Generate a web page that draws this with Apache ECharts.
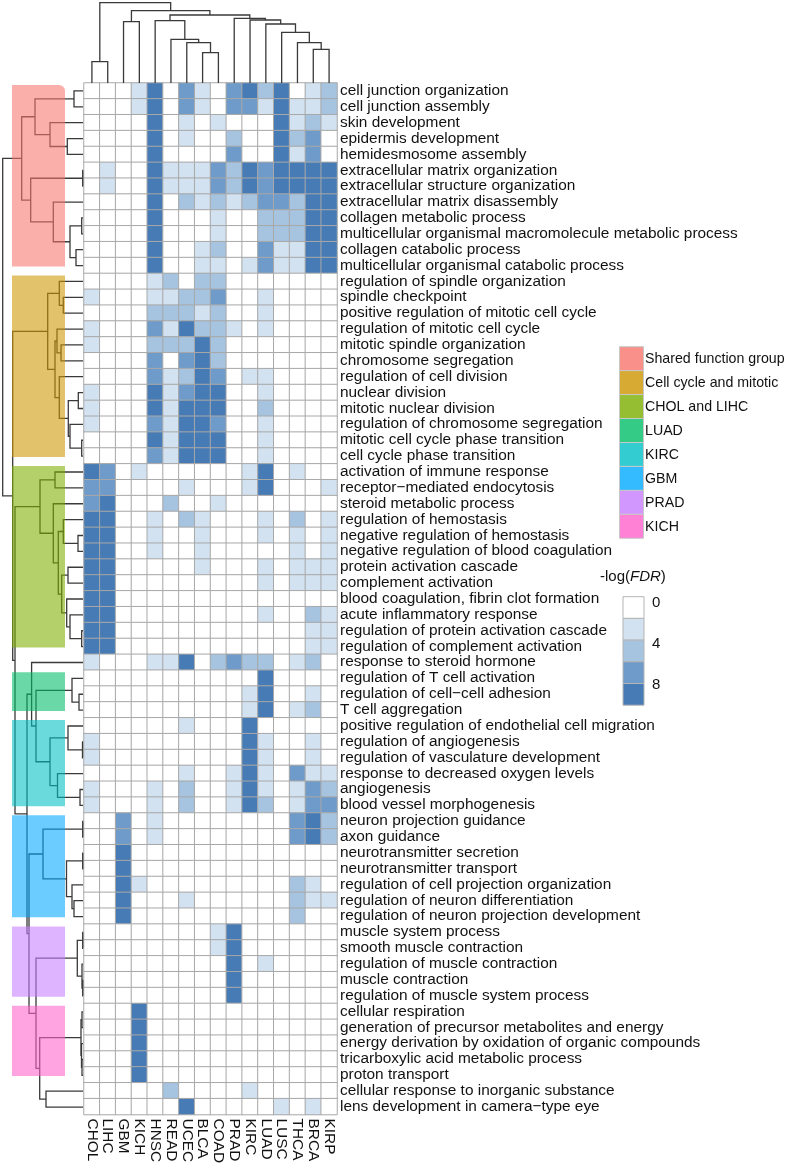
<!DOCTYPE html>
<html><head><meta charset="utf-8">
<script src="https://cdn.jsdelivr.net/npm/echarts@6/dist/echarts.min.js"></script>
<style>html,body{margin:0;padding:0;background:#fff}#c{width:787px;height:1166px}</style>
</head><body><div id="c"></div><script>
const columns = ['CHOL','LIHC','GBM','KICH','HNSC','READ','UCEC','BLCA','COAD','PRAD','KIRC','LUAD','LUSC','THCA','BRCA','KIRP'];
const terms = [
 'cell junction organization','cell junction assembly','skin development','epidermis development','hemidesmosome assembly',
 'extracellular matrix organization','extracellular structure organization','extracellular matrix disassembly','collagen metabolic process',
 'multicellular organismal macromolecule metabolic process','collagen catabolic process','multicellular organismal catabolic process',
 'regulation of spindle organization','spindle checkpoint','positive regulation of mitotic cell cycle','regulation of mitotic cell cycle',
 'mitotic spindle organization','chromosome segregation','regulation of cell division','nuclear division','mitotic nuclear division',
 'regulation of chromosome segregation','mitotic cell cycle phase transition','cell cycle phase transition',
 'activation of immune response','receptor\u2212mediated endocytosis','steroid metabolic process','regulation of hemostasis',
 'negative regulation of hemostasis','negative regulation of blood coagulation','protein activation cascade','complement activation',
 'blood coagulation, fibrin clot formation','acute inflammatory response','regulation of protein activation cascade',
 'regulation of complement activation','response to steroid hormone','regulation of T cell activation',
 'regulation of cell\u2212cell adhesion','T cell aggregation','positive regulation of endothelial cell migration',
 'regulation of angiogenesis','regulation of vasculature development','response to decreased oxygen levels','angiogenesis',
 'blood vessel morphogenesis','neuron projection guidance','axon guidance','neurotransmitter secretion','neurotransmitter transport',
 'regulation of cell projection organization','regulation of neuron differentiation','regulation of neuron projection development',
 'muscle system process','smooth muscle contraction','regulation of muscle contraction','muscle contraction',
 'regulation of muscle system process','cellular respiration','generation of precursor metabolites and energy',
 'energy derivation by oxidation of organic compounds','tricarboxylic acid metabolic process','proton transport',
 'cellular response to inorganic substance','lens development in camera\u2212type eye'
];
// -log(FDR) per term, columns in the order above
const fdrValues = [
 [0,0,0,2,8,0,6,2,0,6,8,4,8,0,2,4],
 [0,0,0,2,8,0,6,2,0,6,6,2,8,2,2,4],
 [0,0,0,0,8,0,2,0,2,0,0,0,8,2,4,2],
 [0,0,0,0,8,0,2,0,0,4,0,0,8,4,6,0],
 [0,0,0,0,8,0,0,0,0,6,0,0,8,2,6,0],
 [0,2,0,0,8,2,2,2,6,4,8,6,8,8,8,8],
 [0,2,0,0,8,2,2,2,6,4,8,6,8,8,8,8],
 [0,0,0,0,8,0,4,2,4,2,4,6,6,4,8,8],
 [0,0,0,0,8,0,0,0,2,0,0,4,4,4,8,8],
 [0,0,0,0,8,0,0,0,2,0,0,4,4,4,8,8],
 [0,0,0,0,8,0,0,2,4,0,0,6,2,2,8,8],
 [0,0,0,0,8,0,0,2,2,0,2,6,2,2,8,8],
 [0,0,0,0,2,4,0,4,4,0,0,0,0,0,0,0],
 [2,0,0,0,2,2,4,4,6,0,0,2,0,0,0,0],
 [0,0,0,0,4,4,4,2,4,0,0,2,0,0,0,0],
 [2,0,0,0,6,2,8,4,4,2,0,2,0,0,0,0],
 [2,0,0,0,4,4,4,8,4,0,0,0,0,0,0,0],
 [0,0,0,0,6,0,6,8,4,0,0,0,0,0,0,0],
 [0,0,0,0,6,2,4,8,6,0,2,2,0,0,0,0],
 [2,0,0,0,8,2,6,8,8,0,0,2,0,0,0,0],
 [2,0,0,0,8,2,8,8,8,0,0,4,0,0,0,0],
 [2,0,0,0,6,2,8,8,6,0,0,2,0,0,0,0],
 [0,0,0,0,8,2,8,8,8,0,0,2,0,0,0,0],
 [0,0,0,0,6,2,8,8,8,0,0,2,0,0,0,0],
 [8,6,0,2,0,0,0,0,0,0,2,8,0,2,0,0],
 [6,6,0,0,0,0,2,0,0,0,2,8,0,0,0,2],
 [6,8,0,0,0,4,0,0,2,0,0,0,0,0,0,0],
 [8,8,0,0,2,0,4,2,0,0,0,2,0,4,0,2],
 [8,8,0,0,2,0,0,2,0,0,0,2,0,2,0,2],
 [8,8,0,0,2,0,0,2,0,0,0,0,0,2,0,2],
 [8,8,0,0,0,0,0,2,0,0,0,2,0,2,2,2],
 [8,8,0,0,0,0,0,0,0,0,0,2,0,2,2,2],
 [8,8,0,0,0,0,0,0,0,0,0,0,0,0,0,0],
 [8,8,0,0,0,0,0,0,0,0,0,2,0,0,4,2],
 [8,8,0,0,0,0,0,0,0,0,0,0,0,0,2,2],
 [8,8,0,0,0,0,0,0,0,0,0,0,0,0,2,2],
 [2,0,0,0,2,2,8,0,4,6,4,4,0,2,4,0],
 [0,0,0,0,0,0,0,0,0,0,0,8,0,0,0,0],
 [0,0,0,0,0,0,0,0,0,0,2,8,0,0,2,0],
 [0,0,0,0,0,0,0,0,0,0,2,8,0,2,4,0],
 [0,0,0,0,0,0,2,0,0,0,8,0,0,0,0,0],
 [2,0,0,0,0,0,0,0,0,0,8,2,0,0,2,0],
 [2,0,0,0,0,0,0,0,0,0,8,2,0,0,2,0],
 [0,0,0,0,0,0,2,0,0,2,8,2,0,6,2,2],
 [2,0,0,0,2,0,4,0,0,2,8,2,0,2,6,4],
 [2,0,0,0,2,0,4,0,0,2,8,4,0,2,6,6],
 [0,0,6,0,2,0,0,0,0,0,0,0,0,6,8,4],
 [0,0,6,0,2,0,0,0,0,0,0,0,0,6,8,4],
 [0,0,8,0,0,0,0,0,0,0,0,0,0,0,0,0],
 [0,0,8,0,0,0,0,0,0,0,0,0,0,0,0,0],
 [0,0,8,2,0,0,0,0,0,0,0,0,0,4,2,0],
 [0,0,8,0,0,0,2,0,0,0,0,0,0,4,2,2],
 [0,0,8,0,0,0,0,0,0,0,0,0,0,4,0,0],
 [0,0,0,0,0,0,0,0,2,8,0,0,0,0,0,0],
 [0,0,0,0,0,0,0,0,2,8,0,0,0,0,0,0],
 [0,0,0,0,0,0,0,0,0,8,0,2,0,0,0,0],
 [0,0,0,0,0,0,0,0,0,8,0,0,0,0,0,0],
 [0,0,0,0,0,0,0,0,0,8,0,0,0,0,0,0],
 [0,0,0,8,0,0,0,0,0,0,0,0,0,0,0,0],
 [0,0,0,8,0,0,0,0,0,0,0,0,0,0,0,0],
 [0,0,0,8,0,0,0,0,0,0,0,0,0,0,0,0],
 [0,0,0,8,0,0,0,0,0,0,0,0,0,0,0,0],
 [0,0,0,8,0,0,0,0,0,0,0,0,0,0,0,0],
 [0,0,0,0,0,4,0,0,0,0,2,0,0,0,0,0],
 [0,0,0,0,0,0,8,0,0,0,0,0,2,0,2,0]
];
// dendrograms: [left, right, mergeHeight]; leaves are indices
const colTree = [[0,1,21.3],[[2,3,61.3],[[4,[5,[6,[7,8,30.3],40.3],43.7],62.3],[9,[10,[11,[12,[13,[14,15,33.7],40.3],50.7],59],63],64.7],68],72.3],80.3];
const rowPink = [[[0,1,9],[2,[3,4,15.7],33],48],[[5,6,0.3],[7,[[8,9,1.3],[10,11,7],13],29.7],52.3],61.3];
const rowGold = [[12,[13,14,19.7],23.7],[[15,[16,17,22],26],[18,[[19,20,4.7],[21,[22,23,1.3],13],14.7],23.7],28],35.3];
const rowGreen = [[24,25,28],[26,[[27,[28,29,5],19.7],[[30,31,15],[32,[33,[34,35,1.3],13],16.3],21.3],24.7],29.7],43];
const rowLuad = [37,[38,39,4],11];
const rowKirc = [[40,[41,42,0.5],15],[43,[44,45,3],25.5],33];
const rowGbm = [[46,47,0.3],[[48,49,0.3],[50,[51,52,9],11],16.5],40];
const rowPrad = [[53,54,0.3],[55,[56,57,0.3],1],5.7];
const rowKich = [[58,59,1],[60,[61,62,1],1.5],2];
const rowTree = [rowPink,[rowGold,[rowGreen,[[36,[rowLuad,rowKirc,47],51.4],[rowGbm,[rowPrad,[rowKich,[63,64,37],43.3],47],54],56],68],70.3],80.3];

const groupNames = ['Shared function group','Cell cycle and mitotic','CHOL and LIHC','LUAD','KIRC','GBM','PRAD','KICH'];
const groupColors = ['#F8766D','#CD9600','#7CAE00','#00BE67','#00BFC4','#00A9FF','#C77CFF','#FF61CC'];
const groupFirstRow = [0,12,24,37,40,46,53,58];
const groupLastRow = [11,23,35,39,45,52,57,62];
const fdrSteps = [0,2,4,6,8];
const fdrTickLabels = ['0','4','8'];
const heatPalette = ['#ffffff','#d3e2f0','#a6c3df','#6e9bc9','#467bb5'];

function collect(node, links){
  if (typeof node === 'number') return {pos: node + 0.5, h: 0};
  const a = collect(node[0], links), b = collect(node[1], links), h = node[2];
  links.push([a.pos, a.h, b.pos, b.h, h]);
  return {pos: (a.pos + b.pos) / 2, h: h};
}
const colLinks = []; collect(colTree, colLinks);
const rowLinks = []; collect(rowTree, rowLinks);

const heatData = [];
fdrValues.forEach((row, r) => row.forEach((v, c) => heatData.push([c, r, v])));

function alpha(hex, a){
  const n = parseInt(hex.slice(1), 16);
  return 'rgba(' + (n >> 16 & 255) + ',' + (n >> 8 & 255) + ',' + (n & 255) + ',' + a + ')';
}
const FONT = 'Liberation Sans, Arial, sans-serif';
const chart = echarts.init(document.getElementById('c'), null, {renderer: 'canvas'});

const lineStyle = {stroke: '#3a3a3a', lineWidth: 1.3, fill: null};

const graphics = [];
groupNames.forEach((g, i) => {
  const y = 346.7 + i * 23.95;
  graphics.push({type: 'rect', shape: {x: 619.5, y: y, width: 24, height: 23.95}, style: {fill: alpha(groupColors[i], 0.8), stroke: '#c8c8c8', lineWidth: 1}});
  graphics.push({type: 'text', x: 645, y: y + 12.5, style: {text: g, font: '14.2px ' + FONT, fill: '#111', verticalAlign: 'middle'}});
});
graphics.push({type: 'text', x: 600, y: 577, style: {
  text: '-log({i|FDR})', rich: {i: {fontStyle: 'italic', font: 'italic 15px ' + FONT, fill: '#111'}},
  font: '15px ' + FONT, fill: '#111', verticalAlign: 'middle'}});
fdrSteps.forEach((v, i) => {
  graphics.push({type: 'rect', shape: {x: 623, y: 596.7 + i * 21.7, width: 21, height: 21.7}, style: {fill: heatPalette[i], stroke: '#b4b4b4', lineWidth: 1}});
});
fdrTickLabels.forEach((t, i) => {
  graphics.push({type: 'text', x: 652, y: 603 + i * 41, style: {text: t, font: '15px ' + FONT, fill: '#111', verticalAlign: 'middle'}});
});

const option = {
  animation: false,
  backgroundColor: '#fff',
  textStyle: {fontFamily: FONT},
  grid: [
    {left: 84, top: 83, width: 253, height: 1032},
    {left: 0, top: 83, width: 83, height: 1032},
    {left: 84, top: 0, width: 253, height: 83}
  ],
  xAxis: [
    {type: 'category', gridIndex: 0, data: columns, position: 'bottom',
     axisLine: {show: false}, axisTick: {show: false}, splitLine: {show: false},
     axisLabel: {rotate: -90, fontSize: 15.4, color: '#111', margin: 4, interval: 0, fontFamily: FONT}},
    {type: 'value', gridIndex: 1, min: 0, max: 83, inverse: true, show: false},
    {type: 'value', gridIndex: 2, min: 0, max: 16, show: false}
  ],
  yAxis: [
    {type: 'category', gridIndex: 0, data: terms, inverse: true, position: 'right',
     axisLine: {show: false}, axisTick: {show: false}, splitLine: {show: false},
     axisLabel: {fontSize: 15.4, color: '#111', margin: 3, interval: 0, fontFamily: FONT}},
    {type: 'value', gridIndex: 1, min: 0, max: 65, inverse: true, show: false},
    {type: 'value', gridIndex: 2, min: 0, max: 83, show: false}
  ],
  visualMap: {show: false, type: 'continuous', min: 0, max: 8, seriesIndex: 0, inRange: {color: heatPalette}},
  series: [
    {type: 'heatmap', xAxisIndex: 0, yAxisIndex: 0, data: heatData,
     itemStyle: {borderColor: '#a8a8a8', borderWidth: 1}, emphasis: {disabled: true}},
    {type: 'custom', xAxisIndex: 1, yAxisIndex: 1, z: 3, silent: true,
     data: rowLinks.map(l => [l[1], l[0], l[3], l[2], l[4]]),
     renderItem: (p, api) => {
       const hA = api.value(0), pA = api.value(1), hB = api.value(2), pB = api.value(3), h = api.value(4);
       return {type: 'polyline', shape: {points: [[hA, pA], [h, pA], [h, pB], [hB, pB]].map(q => api.coord(q))}, style: lineStyle};
     }},
    {type: 'custom', xAxisIndex: 1, yAxisIndex: 1, z: 4, silent: true,
     data: groupNames.map((g, i) => [71, groupFirstRow[i] + 0.12, 18, groupLastRow[i] + 0.55, i]),
     renderItem: (p, api) => {
       const a = api.coord([api.value(0), api.value(1)]), b = api.coord([api.value(2), api.value(3)]);
       const i = api.value(4);
       return {type: 'rect', shape: {x: a[0], y: a[1], width: b[0] - a[0], height: b[1] - a[1], r: i === 0 ? [0, 6, 0, 0] : 0},
               style: {fill: alpha(groupColors[i], 0.58)}};
     }},
    {type: 'custom', xAxisIndex: 2, yAxisIndex: 2, z: 3, silent: true,
     data: colLinks,
     renderItem: (p, api) => {
       const pA = api.value(0), hA = api.value(1), pB = api.value(2), hB = api.value(3), h = api.value(4);
       return {type: 'polyline', shape: {points: [[pA, hA], [pA, h], [pB, h], [pB, hB]].map(q => api.coord(q))}, style: lineStyle};
     }}
  ],
  graphic: graphics
};
chart.setOption(option);
</script></body></html>
